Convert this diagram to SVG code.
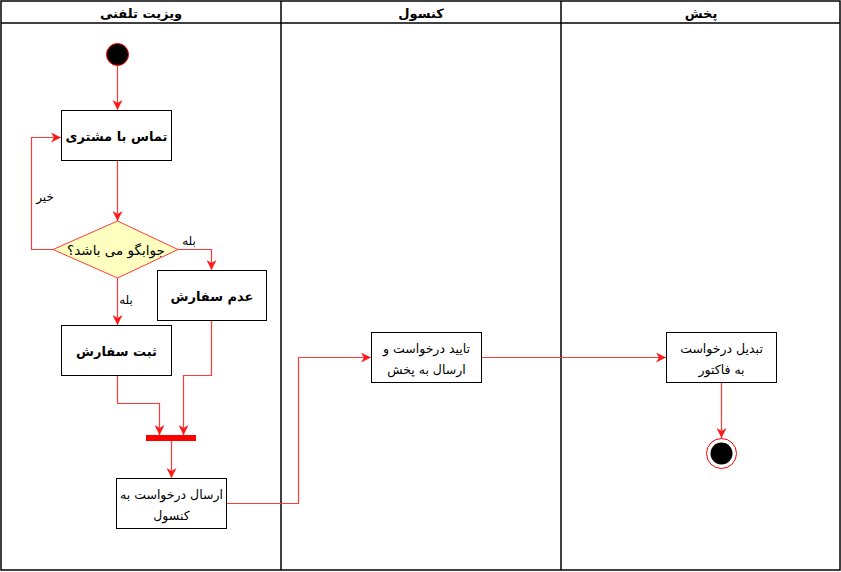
<svg xmlns="http://www.w3.org/2000/svg" width="841" height="572" viewBox="0 0 841 572">
<style>
.lane{fill:none;stroke:#000;stroke-width:1.5}
.hd{font-family:"DejaVu Sans",sans-serif;font-size:13px;font-weight:bold;fill:#000;text-anchor:middle}
.box{fill:#fff;stroke:#000;stroke-width:1}
.bt{font-family:"DejaVu Sans",sans-serif;font-size:13px;font-weight:bold;fill:#000;text-anchor:middle}
.nt{font-family:"DejaVu Sans",sans-serif;font-size:12.5px;fill:#000;text-anchor:middle}
.lb{font-family:"DejaVu Sans",sans-serif;font-size:12px;fill:#000;text-anchor:middle}
.dt{font-family:"DejaVu Sans",sans-serif;font-size:13.5px;fill:#000;text-anchor:middle}
.c{fill:none;stroke:#ff3a3a;stroke-width:1.2}
</style>
<defs>
<marker id="ah" viewBox="0 0 10 10" refX="10" refY="5" markerWidth="10" markerHeight="10" markerUnits="userSpaceOnUse" orient="auto">
<path d="M0,0 L10,5 L0,10 L3,5 Z" fill="#ff1a1a"/>
</marker>
</defs>
<g id="lanes">
<rect class="lane" x="1" y="1" width="839" height="569"/>
<line class="lane" x1="1" y1="23" x2="840" y2="23"/>
<line class="lane" x1="281" y1="1" x2="281" y2="570"/>
<line class="lane" x1="561" y1="1" x2="561" y2="570"/>
<text class="hd" x="141" y="18">ویزیت تلفنی</text>
<text class="hd" x="421" y="18">کنسول</text>
<text class="hd" x="701" y="18">پخش</text>
</g>
<g id="connectors">
<path class="c" d="M117.5,66 V110" marker-end="url(#ah)"/>
<path class="c" d="M117.5,160 V221" marker-end="url(#ah)"/>
<path class="c" d="M53,249.5 H31.5 V137.5 H61" marker-end="url(#ah)"/>
<path class="c" d="M178,249.5 H211.5 V270" marker-end="url(#ah)"/>
<path class="c" d="M117.5,278 V325" marker-end="url(#ah)"/>
<path class="c" d="M117.5,375 V403.5 H159.5 V435" marker-end="url(#ah)"/>
<path class="c" d="M211.5,320 V375.5 H183.5 V435" marker-end="url(#ah)"/>
<path class="c" d="M171.5,441 V478" marker-end="url(#ah)"/>
<path class="c" d="M226,503.5 H298.5 V357.5 H371" marker-end="url(#ah)"/>
<path class="c" d="M481,357.5 H666" marker-end="url(#ah)"/>
<path class="c" d="M721.5,382 V438" marker-end="url(#ah)"/>
<text class="lb" x="45" y="201">خیر</text>
<text class="lb" x="189" y="245">بله</text>
<text class="lb" x="126" y="304">بله</text>
</g>
<g id="start">
<circle cx="117.5" cy="54.5" r="11" fill="#000" stroke="#ff0000" stroke-width="1"/>
</g>
<g id="contact">
<rect class="box" x="61.5" y="110.5" width="110" height="50"/>
<text class="bt" x="116.5" y="141">تماس با مشتری</text>
</g>
<g id="decision">
<polygon points="117.5,221 178,249.5 117.5,278 53,249.5" fill="#ffffc0" stroke="#ff3a3a" stroke-width="1"/>
<text class="dt" x="116" y="255">جوابگو می باشد؟</text>
</g>
<g id="noorder">
<rect class="box" x="157.5" y="270.5" width="109" height="50"/>
<text class="bt" x="212" y="301">عدم سفارش</text>
</g>
<g id="order">
<rect class="box" x="61.5" y="325.5" width="110" height="50"/>
<text class="bt" x="116.5" y="356">ثبت سفارش</text>
</g>
<g id="join">
<rect x="146" y="435" width="50" height="6" fill="#ff0000"/>
</g>
<g id="send">
<rect class="box" x="116.5" y="478.5" width="110" height="50"/>
<text class="nt" x="171.5" y="499">ارسال درخواست به</text>
<text class="nt" x="171.5" y="520">کنسول</text>
</g>
<g id="approve">
<rect class="box" x="371.5" y="332.5" width="110" height="50"/>
<text class="nt" x="426.5" y="353">تایید درخواست و</text>
<text class="nt" x="426.5" y="374">ارسال به پخش</text>
</g>
<g id="invoice">
<rect class="box" x="666.5" y="332.5" width="110" height="50"/>
<text class="nt" x="721.5" y="353">تبدیل درخواست</text>
<text class="nt" x="721.5" y="374">به فاکتور</text>
</g>
<g id="end">
<circle cx="721.5" cy="453.5" r="15" fill="#fff" stroke="#ff0000" stroke-width="1"/>
<circle cx="721.5" cy="453.5" r="11" fill="#000"/>
</g>
</svg>
